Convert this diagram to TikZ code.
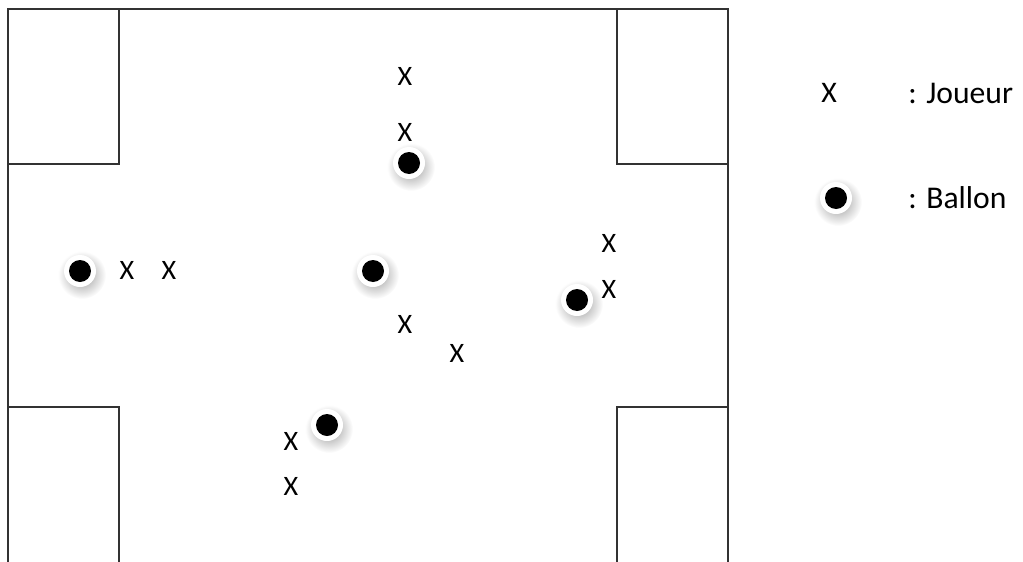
\documentclass[tikz,border=0pt]{standalone}
\usepackage{fontspec}
\setmainfont{Carlito}
\usepackage{xcolor}
\definecolor{ligne}{RGB}{50,50,50}
\definecolor{ombre}{RGB}{150,150,150}

\tikzset{
  joueur/.style={font=\fontsize{16}{18}\selectfont, inner sep=0pt},
  legende/.style={font=\fontsize{18}{21}\selectfont, inner sep=0pt, anchor=west},
  ballon/.style={circle, fill=black, minimum size=0.44cm, inner sep=0pt}
}

\begin{document}
\begin{tikzpicture}[x=0.02cm, y=-0.02cm]
  \useasboundingbox (0,0) rectangle (1023,561);
  \begin{scope}
  \clip (0,0) rectangle (1023,561);

  % Terrain
  \draw[ligne, line width=1.1pt] (8,570) -- (8,9) -- (728,9) -- (728,570);

  % Coins
  \draw[ligne, line width=1.1pt] (8,9) rectangle (119,164);
  \draw[ligne, line width=1.1pt] (617,9) rectangle (728,164);
  \draw[ligne, line width=1.1pt] (8,570) -- (8,407) -- (119,407) -- (119,570);
  \draw[ligne, line width=1.1pt] (728,570) -- (728,407) -- (617,407) -- (617,570);
  \end{scope}

  % Ombres des ballons
  \foreach \bx/\by in {409/163, 80/271, 373/271, 577/300, 327/425, 836/198} {
    \shade[inner color=ombre, outer color=white] (\bx+2,\by+4) circle (24);
    \fill[white] (\bx,\by) circle (16);
  }

  % Ballons
  \node[ballon] (b1) at (409,163) {};
  \node[ballon] (b2) at (80,271) {};
  \node[ballon] (b3) at (373,271) {};
  \node[ballon] (b4) at (577,300) {};
  \node[ballon] (b5) at (327,425) {};

  % Joueurs
  \node[joueur] (j1) at (405,76) {X};
  \node[joueur] (j2) at (405,132) {X};
  \node[joueur] (j3) at (127,270) {X};
  \node[joueur] (j4) at (169,270) {X};
  \node[joueur] (j5) at (405,324) {X};
  \node[joueur] (j6) at (457,353) {X};
  \node[joueur] (j7) at (609,243) {X};
  \node[joueur] (j8) at (609,289) {X};
  \node[joueur] (j9) at (291,441) {X};
  \node[joueur] (j10) at (291,486) {X};

  % Legende
  \node[joueur, font=\fontsize{17}{20}\selectfont] (lj) at (829,93) {X};
  \node[legende] (tj) at (908,93) {: Joueur};
  \node[ballon] (lb) at (836,198) {};
  \node[legende] (tb) at (908,198) {: Ballon};

\end{tikzpicture}
\end{document}
